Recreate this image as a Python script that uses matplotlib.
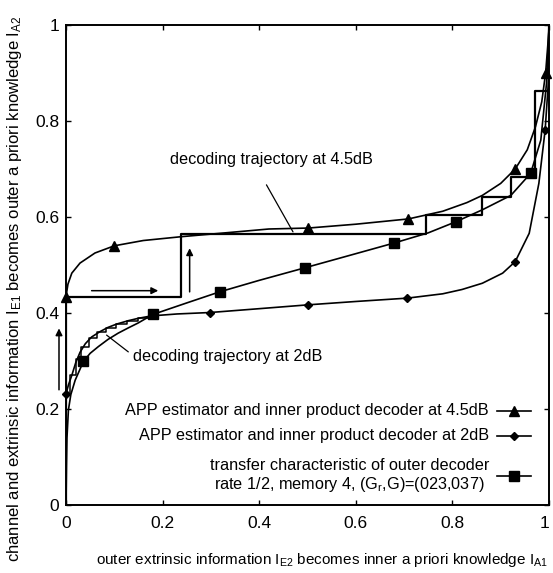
import matplotlib
matplotlib.use('Agg')
import matplotlib.pyplot as plt

plt.rcParams['font.family'] = ['Liberation Sans', 'DejaVu Sans']
plt.rcParams['mathtext.default'] = 'regular'

# inner APP estimator + product decoder at 4.5dB (curve and triangle markers)
in45_x = [0.0, 0.004, 0.012, 0.029, 0.06, 0.1, 0.16, 0.239, 0.33, 0.42, 0.502, 0.6, 0.709, 0.78, 0.83, 0.862, 0.9, 0.93, 0.955, 0.972, 0.985, 0.993, 1.0]
in45_y = [0.434, 0.46, 0.483, 0.504, 0.525, 0.54, 0.551, 0.559, 0.567, 0.575, 0.577, 0.585, 0.596, 0.612, 0.63, 0.645, 0.67, 0.70, 0.74, 0.788, 0.84, 0.9, 0.99]
in45_mx = [0.0, 0.1, 0.502, 0.709, 0.93, 0.993]
in45_my = [0.434, 0.54, 0.577, 0.596, 0.70, 0.9]

# inner at 2dB (curve and diamond markers)
in2_x = [0.0, 0.005, 0.012, 0.02, 0.029, 0.04, 0.053, 0.07, 0.087, 0.105, 0.129, 0.15, 0.177, 0.23, 0.298, 0.4, 0.501, 0.6, 0.707, 0.78, 0.82, 0.862, 0.904, 0.93, 0.959, 0.979, 0.992, 1.0]
in2_y = [0.231, 0.25, 0.27, 0.296, 0.318, 0.336, 0.35, 0.361, 0.37, 0.377, 0.384, 0.389, 0.394, 0.398, 0.401, 0.409, 0.417, 0.424, 0.431, 0.44, 0.449, 0.462, 0.483, 0.507, 0.566, 0.67, 0.781, 0.9]
in2_mx = [0.0, 0.298, 0.501, 0.707, 0.93, 0.992]
in2_my = [0.231, 0.401, 0.417, 0.431, 0.507, 0.781]

# outer decoder transfer characteristic (curve and square markers)
out_x = [0.0, 0.001, 0.002, 0.005, 0.01, 0.019, 0.036, 0.05, 0.067, 0.087, 0.108, 0.129, 0.149, 0.18, 0.25, 0.318, 0.4, 0.494, 0.58, 0.68, 0.75, 0.807, 0.862, 0.921, 0.962, 0.983, 0.995, 1.0]
out_y = [0.0, 0.08, 0.14, 0.198, 0.23, 0.26, 0.299, 0.316, 0.33, 0.345, 0.358, 0.369, 0.379, 0.397, 0.421, 0.444, 0.468, 0.494, 0.518, 0.546, 0.567, 0.59, 0.615, 0.645, 0.691, 0.76, 0.88, 1.0]
out_mx = [0.036, 0.18, 0.318, 0.494, 0.68, 0.807, 0.962]
out_my = [0.299, 0.397, 0.444, 0.494, 0.546, 0.59, 0.691]

# decoding trajectory at 4.5dB
tr45_x = [0.0, 0.0, 0.239, 0.239, 0.745, 0.745, 0.862, 0.862, 0.921, 0.921, 0.971, 0.971, 1.0, 1.0]
tr45_y = [0.0, 0.434, 0.434, 0.565, 0.565, 0.604, 0.604, 0.641, 0.641, 0.684, 0.684, 0.862, 0.862, 1.0]

# decoding trajectory at 2dB
tr2_x = [0.0, 0.009, 0.009, 0.02, 0.02, 0.032, 0.032, 0.047, 0.047, 0.064, 0.064, 0.083, 0.083, 0.104, 0.104, 0.127, 0.127, 0.15, 0.15, 0.175]
tr2_y = [0.231, 0.231, 0.27, 0.27, 0.305, 0.305, 0.33, 0.33, 0.347, 0.347, 0.36, 0.36, 0.369, 0.369, 0.377, 0.377, 0.384, 0.384, 0.389, 0.389]

ticks = [0, 0.2, 0.4, 0.6, 0.8, 1]
tick_labels = ['0', '0.2', '0.4', '0.6', '0.8', '1']

legend_labels = ['APP estimator and inner product decoder at 4.5dB',
                 'APP estimator and inner product decoder at 2dB',
                 'transfer characteristic of outer decoder\nrate 1/2, memory 4, (G$_r$,G)=(023,037)']

fig = plt.figure(figsize=(5.53, 5.73), dpi=100)
ax = fig.add_axes([66 / 553, 1 - 505 / 573, 483 / 553, 480 / 573])

lw = 1.2
ax.plot(in45_x, in45_y, color='k', lw=lw)
ax.plot(in45_mx, in45_my, ls='none', marker='^', ms=7.5, color='k', clip_on=False, zorder=5)
ax.plot(in2_x, in2_y, color='k', lw=lw)
ax.plot(in2_mx, in2_my, ls='none', marker='D', ms=4, color='k', clip_on=False, zorder=5)
ax.plot(out_x, out_y, color='k', lw=lw)
ax.plot(out_mx, out_my, ls='none', marker='s', ms=6.5, color='k', clip_on=False, zorder=5)
ax.plot(tr45_x, tr45_y, color='k', lw=1.6)
ax.plot(tr2_x, tr2_y, color='k', lw=1.1)

ax.set_xlim(0, 1)
ax.set_ylim(0, 1)
ax.set_xticks(ticks)
ax.set_xticklabels(tick_labels)
ax.set_yticks(ticks)
ax.set_yticklabels(tick_labels)
ax.tick_params(direction='in', length=3.5, width=1, top=True, right=True, labelsize=12.5)
ax.tick_params(axis='x', pad=8)
ax.tick_params(axis='y', pad=5)
ax.get_xticklabels()[-1].set_ha('right')
for s in ax.spines.values():
    s.set_linewidth(1.4)

# arrows
ap = dict(arrowstyle='-|>', color='k', lw=1.1, mutation_scale=10, shrinkA=0, shrinkB=0)
ax.annotate('', xy=(0.191, 0.4465), xytext=(0.053, 0.4465), arrowprops=ap)
ax.annotate('', xy=(0.256, 0.535), xytext=(0.256, 0.444), arrowprops=ap)
ax.annotate('', xy=(-0.0145, 0.368), xytext=(-0.0145, 0.24), arrowprops=ap, annotation_clip=False)

# trajectory labels
fs = 11.7
lp = dict(arrowstyle='-', color='k', lw=0.9, shrinkA=0, shrinkB=0)
ax.text(0.426, 0.719, 'decoding trajectory at 4.5dB', fontsize=fs, ha='center', va='center')
ax.annotate('', xy=(0.47, 0.569), xytext=(0.415, 0.667), arrowprops=lp)
ax.text(0.335, 0.31, 'decoding trajectory at 2dB', fontsize=fs, ha='center', va='center')
ax.annotate('', xy=(0.084, 0.354), xytext=(0.129, 0.319), arrowprops=lp)

# legend drawn by hand: text on the left, sample on the right
rows_y = [0.196, 0.144, 0.060]
markers = [('^', 7.5), ('D', 4), ('s', 6.5)]
for lab, yy, (m, ms) in zip(legend_labels, rows_y, markers):
    ax.text(0.876, yy, lab, transform=ax.transAxes, fontsize=fs, ha='right', va='center',
            multialignment='center', linespacing=1.1)
    ax.plot([0.893, 0.963], [yy, yy], transform=ax.transAxes, color='k', lw=1.2)
    ax.plot([0.928], [yy], transform=ax.transAxes, marker=m, ms=ms, color='k')

fig.text(0.582, 0.022, 'outer extrinsic information I$_{E2}$ becomes inner a priori knowledge I$_{A1}$',
         fontsize=11, ha='center', va='center')
fig.text(0.027, 0.496, 'channel and extrinsic information I$_{E1}$ becomes outer a priori knowledge I$_{A2}$',
         fontsize=12, ha='center', va='center', rotation=90)

fig.savefig('out.png', dpi=100)
